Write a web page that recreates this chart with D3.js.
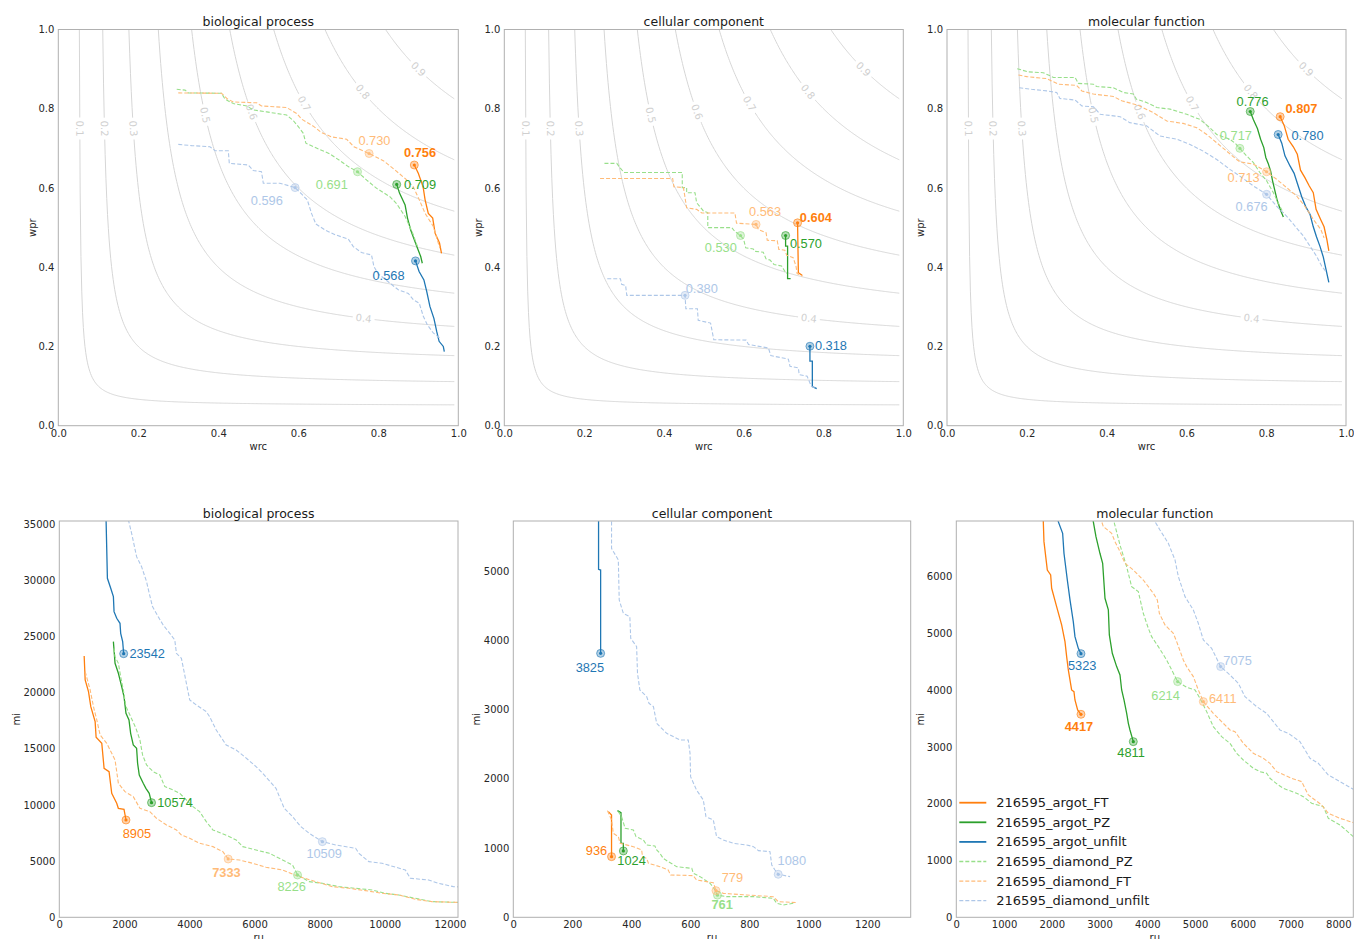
<!DOCTYPE html>
<html>
<head>
<meta charset="utf-8">
<script src="https://cdn.jsdelivr.net/npm/d3@7"></script>
<style>
body { margin: 0; background: #fff; }
svg { display: block; }
</style>
</head>
<body>
<div id="chart"></div>
<script>
// series in legend order
const seriesNames = ["216595_argot_FT", "216595_argot_PZ", "216595_argot_unfilt",
  "216595_diamond_PZ", "216595_diamond_FT", "216595_diamond_unfilt"];
const seriesColors = ["#ff7f0e", "#2ca02c", "#1f77b4", "#98df8a", "#ffbb78", "#aec7e8"];
const ontologies = ["biological process", "cellular component", "molecular function"];

// iso F-measure levels (grey background curves), label sits at this precision
const fLevels = [0.1, 0.2, 0.3, 0.4, 0.5, 0.6, 0.7, 0.8, 0.9];
const fLabelPrecision = [0.75, 0.75, 0.75, 0.271, 0.784, 0.792, 0.813, 0.843, 0.90];

// precision / recall curves  [wrc, wpr]
const prBP = [
  [[0.890,0.658],[0.900,0.637],[0.912,0.603],[0.917,0.570],[0.925,0.536],[0.936,0.524],[0.942,0.486],[0.953,0.461],[0.958,0.435]],
  [[0.846,0.609],[0.853,0.587],[0.867,0.557],[0.873,0.524],[0.881,0.494],[0.890,0.469],[0.898,0.448],[0.906,0.427],[0.910,0.410]],
  [[0.893,0.416],[0.902,0.389],[0.914,0.368],[0.921,0.339],[0.929,0.301],[0.939,0.271],[0.946,0.238],[0.952,0.213],[0.9625,0.200],[0.965,0.187]],
  [[0.296,0.849],[0.317,0.847],[0.325,0.840],[0.408,0.839],[0.417,0.824],[0.4375,0.813],[0.471,0.807],[0.4875,0.797],[0.521,0.792],[0.571,0.784],[0.5875,0.770],[0.600,0.755],[0.6125,0.738],[0.619,0.713],[0.654,0.697],[0.679,0.686],[0.704,0.669],[0.725,0.654],[0.748,0.641],[0.771,0.620],[0.796,0.599],[0.829,0.578],[0.846,0.560],[0.867,0.528],[0.886,0.486],[0.898,0.452]],
  [[0.300,0.840],[0.408,0.839],[0.4225,0.825],[0.4375,0.817],[0.496,0.815],[0.508,0.807],[0.571,0.803],[0.596,0.788],[0.608,0.774],[0.6375,0.756],[0.658,0.740],[0.683,0.729],[0.721,0.723],[0.739,0.704],[0.777,0.687],[0.8125,0.669],[0.842,0.645],[0.867,0.624],[0.8875,0.603],[0.9025,0.570],[0.917,0.536],[0.9375,0.503],[0.9475,0.469],[0.954,0.448]],
  [[0.300,0.710],[0.333,0.707],[0.379,0.704],[0.392,0.694],[0.425,0.694],[0.4275,0.662],[0.475,0.658],[0.4875,0.644],[0.508,0.641],[0.5125,0.612],[0.554,0.612],[0.592,0.601],[0.608,0.585],[0.6225,0.570],[0.633,0.536],[0.644,0.509],[0.667,0.494],[0.692,0.482],[0.725,0.471],[0.7375,0.452],[0.758,0.437],[0.783,0.431],[0.789,0.402],[0.800,0.383],[0.829,0.360],[0.850,0.343],[0.875,0.334],[0.8875,0.318],[0.9025,0.309],[0.9125,0.276],[0.9225,0.255],[0.9375,0.234],[0.954,0.221]]
];
const prCC = [
  [[0.735,0.512],[0.737,0.386],[0.740,0.384],[0.747,0.379]],
  [[0.705,0.480],[0.705,0.453],[0.710,0.453],[0.710,0.371],[0.7175,0.371]],
  [[0.766,0.2005],[0.766,0.163],[0.772,0.163],[0.772,0.099],[0.783,0.0935]],
  [[0.251,0.662],[0.282,0.662],[0.290,0.651],[0.300,0.639],[0.446,0.639],[0.446,0.601],[0.457,0.601],[0.457,0.588],[0.478,0.588],[0.482,0.563],[0.499,0.542],[0.510,0.538],[0.510,0.500],[0.570,0.500],[0.578,0.490],[0.592,0.480],[0.600,0.470],[0.605,0.449],[0.624,0.446],[0.628,0.440],[0.649,0.438],[0.656,0.421],[0.666,0.418],[0.676,0.407],[0.695,0.403],[0.703,0.390],[0.708,0.384]],
  [[0.240,0.624],[0.422,0.624],[0.425,0.603],[0.449,0.601],[0.457,0.550],[0.482,0.546],[0.495,0.537],[0.578,0.537],[0.582,0.511],[0.631,0.508],[0.637,0.495],[0.656,0.487],[0.659,0.468],[0.684,0.467],[0.688,0.445],[0.703,0.443],[0.708,0.430],[0.724,0.424],[0.731,0.403],[0.734,0.384],[0.747,0.377]],
  [[0.258,0.371],[0.291,0.371],[0.294,0.357],[0.304,0.354],[0.307,0.329],[0.453,0.329],[0.455,0.295],[0.484,0.295],[0.486,0.266],[0.517,0.259],[0.525,0.217],[0.606,0.216],[0.612,0.205],[0.662,0.196],[0.668,0.177],[0.712,0.168],[0.716,0.150],[0.737,0.146],[0.739,0.129],[0.759,0.125],[0.766,0.108],[0.770,0.099],[0.783,0.095]]
];
const prMF = [
  [[0.835,0.780],[0.845,0.758],[0.855,0.723],[0.868,0.704],[0.878,0.685],[0.886,0.645],[0.897,0.626],[0.908,0.605],[0.918,0.588],[0.925,0.546],[0.937,0.519],[0.945,0.502],[0.952,0.470],[0.957,0.441]],
  [[0.760,0.793],[0.768,0.772],[0.778,0.750],[0.786,0.723],[0.794,0.702],[0.799,0.677],[0.805,0.662],[0.811,0.643],[0.816,0.618],[0.822,0.592],[0.828,0.567],[0.836,0.544],[0.843,0.527]],
  [[0.830,0.735],[0.839,0.713],[0.847,0.681],[0.860,0.655],[0.870,0.637],[0.878,0.612],[0.889,0.578],[0.899,0.553],[0.910,0.533],[0.918,0.502],[0.926,0.477],[0.935,0.452],[0.943,0.426],[0.950,0.394],[0.957,0.362]],
  [[0.176,0.901],[0.204,0.893],[0.241,0.891],[0.267,0.879],[0.321,0.879],[0.329,0.864],[0.367,0.862],[0.375,0.856],[0.417,0.853],[0.442,0.841],[0.467,0.837],[0.475,0.824],[0.500,0.816],[0.526,0.803],[0.559,0.799],[0.601,0.786],[0.634,0.773],[0.659,0.752],[0.676,0.735],[0.709,0.723],[0.722,0.713],[0.734,0.700],[0.751,0.681],[0.768,0.664],[0.784,0.639],[0.801,0.618],[0.818,0.588],[0.830,0.563],[0.843,0.537]],
  [[0.179,0.885],[0.200,0.881],[0.250,0.876],[0.279,0.862],[0.325,0.859],[0.338,0.845],[0.367,0.837],[0.417,0.831],[0.438,0.820],[0.479,0.809],[0.517,0.790],[0.551,0.769],[0.592,0.763],[0.626,0.752],[0.651,0.735],[0.676,0.714],[0.701,0.693],[0.726,0.672],[0.734,0.666],[0.768,0.660],[0.801,0.641],[0.826,0.622],[0.851,0.601],[0.876,0.580],[0.897,0.554],[0.918,0.521],[0.937,0.495],[0.945,0.474]],
  [[0.181,0.853],[0.212,0.849],[0.250,0.845],[0.275,0.841],[0.283,0.826],[0.321,0.822],[0.338,0.807],[0.367,0.805],[0.384,0.786],[0.434,0.780],[0.458,0.765],[0.500,0.757],[0.534,0.731],[0.576,0.723],[0.609,0.710],[0.642,0.693],[0.676,0.672],[0.709,0.647],[0.734,0.630],[0.768,0.605],[0.801,0.584],[0.826,0.554],[0.851,0.529],[0.872,0.504],[0.893,0.479],[0.910,0.453],[0.926,0.428],[0.939,0.403],[0.952,0.386]]
];
// Fmax points and their values
const prBestBP = [[0.890,0.658],[0.846,0.609],[0.893,0.416],[0.748,0.641],[0.777,0.687],[0.592,0.601]];
const prBestCC = [[0.735,0.512],[0.705,0.480],[0.766,0.2005],[0.592,0.480],[0.631,0.508],[0.453,0.329]];
const prBestMF = [[0.835,0.780],[0.760,0.793],[0.830,0.735],[0.734,0.700],[0.801,0.641],[0.801,0.584]];
const fmaxBP = ["0.756", "0.709", "0.568", "0.691", "0.730", "0.596"];
const fmaxCC = ["0.604", "0.570", "0.318", "0.530", "0.563", "0.380"];
const fmaxMF = ["0.807", "0.776", "0.780", "0.717", "0.713", "0.676"];

// remaining uncertainty / misinformation curves  [ru, mi]
const ruBP = [
  [[764,23257],[795,21122],[897,20083],[968,18748],[1101,17413],[1131,16019],[1305,15485],[1376,13260],[1529,12964],[1611,11035],[1764,10145],[1814,9700],[1988,9611],[2049,8660]],
  [[1662,24533],[1713,22605],[1815,21715],[1917,20528],[1988,19639],[2049,18155],[2141,17562],[2192,16375],[2273,15337],[2375,15040],[2406,13705],[2457,12667],[2579,11925],[2661,11480],[2763,11035],[2834,10205]],
  [[1437,35400],[1478,30169],[1580,29279],[1662,28537],[1682,27203],[1764,26609],[1865,26164],[1886,25274],[1947,24533],[1978,23460]],
  [[1682,23939],[1713,23197],[1815,22605],[1886,21418],[1967,20232],[2049,18748],[2192,17858],[2355,16820],[2477,15782],[2559,14447],[2681,13557],[2885,12964],[3089,12667],[3242,11629],[3496,11332],[3700,11035],[3904,10442],[4108,9849],[4312,9404],[4516,8514],[4720,7772],[5229,7179],[5433,6882],[5637,6289],[6045,5992],[6453,5696],[6860,5102],[7166,4657],[7319,3767],[7676,3174],[8083,3026],[8593,2729],[9103,2581],[9613,2433],[10020,2136],[10428,1988],[10938,1691],[11448,1394],[12110,1335],[12300,1330]],
  [[795,21863],[948,20232],[1050,18748],[1152,17562],[1254,16227],[1458,15485],[1611,14595],[1713,14002],[1815,11925],[2018,11184],[2273,10739],[2477,9700],[2783,9404],[2987,8810],[3293,8217],[3598,7772],[3751,7327],[4006,7031],[4312,6586],[4720,6289],[5026,5844],[5189,5191],[5535,5102],[5943,4806],[6351,4450],[6860,4212],[7370,3619],[7880,3174],[8389,2729],[8899,2581],[9409,2373],[9918,2136],[10428,1988],[10938,1602],[11448,1394],[12110,1335],[12300,1330]],
  [[2120,35400],[2222,34174],[2375,32098],[2528,31208],[2681,29873],[2763,28834],[2864,27648],[3038,26758],[3191,26016],[3395,25274],[3548,24681],[3599,23494],[3752,23049],[3905,20825],[4007,19342],[4210,18897],[4516,18303],[4618,17858],[4822,16672],[5128,15337],[5433,14892],[5688,14299],[6045,13409],[6249,12815],[6657,11480],[6911,9700],[7166,8959],[7421,8069],[7676,7475],[8083,6734],[8491,6437],[9103,6141],[9205,5696],[9511,4954],[9918,4806],[10632,4212],[10785,3471],[11346,3323],[11651,3026],[12110,2729],[12300,2700]]
];
const ruCC = [
  [[322,1526],[333,1477],[333,876]],
  [[353,1540],[365,1511],[365,1068],[373,1068],[373,958]],
  [[289,5800],[289,5024],[296,5014],[296,3811]],
  [[356,1526],[367,1453],[379,1285],[407,1261],[416,1165],[441,1116],[452,1044],[480,1030],[486,972],[497,924],[508,852],[525,804],[554,731],[605,707],[610,635],[633,587],[667,491],[683,400],[692,320],[723,298],[814,298],[881,274],[893,202],[915,178],[949,202]],
  [[319,1540],[333,1405],[339,1213],[356,1165],[362,1068],[407,1020],[435,972],[438,876],[452,852],[458,780],[497,731],[525,683],[533,611],[610,602],[621,539],[655,515],[678,500],[687,385],[712,346],[791,322],[881,298],[898,226],[960,212]],
  [[333,5800],[333,5327],[356,5159],[359,4581],[373,4389],[395,4341],[398,4028],[418,3908],[421,3523],[429,3282],[452,3186],[460,3090],[475,3041],[486,2801],[497,2753],[520,2656],[565,2560],[593,2560],[599,2368],[601,2031],[621,1838],[644,1694],[653,1453],[678,1405],[689,1165],[712,1116],[746,1068],[791,1044],[814,1020],[831,962],[870,948],[876,756],[887,683],[898,621],[938,587]]
];
const ruMF = [
  [[1815,7050],[1822,6962],[1836,6610],[1906,6111],[1976,6023],[1997,5789],[2101,5466],[2206,5144],[2276,4850],[2311,4587],[2346,4352],[2415,4000],[2464,3971],[2485,3824],[2541,3648],[2611,3572]],
  [[2860,7050],[2869,6962],[2925,6698],[3008,6405],[3065,6229],[3114,5613],[3184,5408],[3205,4968],[3267,4645],[3358,4411],[3428,4264],[3463,4000],[3512,3824],[3568,3589],[3603,3413],[3637,3296],[3707,3091]],
  [[2130,7050],[2136,6962],[2227,6757],[2255,6405],[2325,5935],[2381,5584],[2450,5202],[2485,4938],[2555,4733],[2611,4639]],
  [[3290,7050],[3302,6962],[3428,6551],[3567,6170],[3672,5818],[3812,5730],[3916,5349],[4021,5085],[4091,4938],[4231,4762],[4405,4528],[4635,4147],[4824,4047],[4999,4000],[5103,3853],[5243,3619],[5382,3355],[5557,3179],[5731,3062],[5871,2886],[6010,2768],[6220,2622],[6359,2563],[6499,2534],[6569,2446],[6743,2328],[6848,2270],[7127,2182],[7267,2123],[7442,2006],[7686,1947],[7791,1742],[8035,1625],[8314,1419],[8400,1380]],
  [[3030,7050],[3044,6962],[3079,6874],[3253,6757],[3323,6610],[3428,6434],[3532,6229],[3707,6111],[3916,5935],[4126,5701],[4210,5584],[4252,5349],[4370,5144],[4545,4997],[4615,4850],[4754,4528],[4824,4411],[4964,4235],[5068,4000],[5173,3795],[5382,3589],[5592,3413],[5731,3296],[5836,3267],[6010,3062],[6220,2886],[6429,2798],[6569,2710],[6708,2563],[7023,2446],[7232,2387],[7372,2152],[7512,2065],[7651,1977],[7791,1830],[8035,1742],[8314,1666],[8400,1640]],
  [[4150,7050],[4161,6962],[4265,6815],[4440,6581],[4580,6288],[4650,5994],[4790,5642],[4964,5408],[5068,5173],[5173,4880],[5347,4733],[5536,4411],[5731,4264],[5906,4117],[6045,3883],[6290,3707],[6499,3589],[6639,3443],[6778,3296],[6953,3238],[7197,3091],[7407,2798],[7581,2710],[7791,2504],[8035,2387],[8314,2252],[8400,2220]]
];
// Smin points and their values
const ruBestBP = [[2049,8660],[2834,10205],[1978,23460],[7319,3767],[5189,5191],[8083,6734]];
const ruBestCC = [[333,876],[373,958],[296,3811],[692,320],[687,385],[898,621]];
const ruBestMF = [[2611,3572],[3707,3091],[2611,4639],[4635,4147],[5173,3795],[5536,4411]];
const sminBP = ["8905", "10574", "23542", "8226", "7333", "10509"];
const sminCC = ["936", "1024", "3825", "761", "779", "1080"];
const sminMF = ["4417", "4811", "5323", "6214", "6411", "7075"];

// ---- layout (pixels) ----
const W = 1354, H = 939;
const topRow = { y0: 29.5, y1: 425.7, xs: [[58.3, 458.3], [504.3, 903.3], [947, 1346]] };
const botRow = { y0: 521, y1: 917.3, xs: [[59.3, 458], [513.3, 910.7], [956.3, 1353.3]] };

// label offsets from marker: [dx to text start, dy to text middle]
const prOffsets = [
  [[-10.3,-12.7],[7.3,0],[-43,15],[-41.7,12.7],[-10.7,-12.7],[-44.3,13.3]],
  [[2.3,-5.7],[4.3,8],[5,-1],[-35.7,12.3],[-7,-12.7],[0.7,-6.7]],
  [[5.3,-8],[-13.7,-9.7],[13.3,0.7],[-20,-13.3],[-39,6],[-31,11.7]]
];
const ruOffsets = [
  [[-3.3,13.3],[5.7,0],[5.7,0],[-20,11.7],[-16,13.3],[-16,12.3]],
  [[-25.7,-5.7],[-6,10],[-25,14.3],[-6,9.3],[5.7,-13.3],[-0.7,-13.7]],
  [[-16.3,12.3],[-16,11],[-13,12],[-26.3,13.7],[5.7,-3],[2.7,-5.7]]
];

const svg = d3.select("#chart").append("svg")
  .attr("width", W)
  .attr("height", H);

const tickFont = "'DejaVu Sans', sans-serif";
const valueFont = "'Liberation Sans', Arial, sans-serif";

const panels = [
  { kind: "pr", title: ontologies[0], box: topRow.xs[0], row: topRow, data: prBP, best: prBestBP, labels: fmaxBP, offs: prOffsets[0],
    xDom: [0, 1], yDom: [0, 1], xTicks: d3.range(0, 1.01, 0.2), yTicks: d3.range(0, 1.01, 0.2), fmt: d3.format(".1f"), yLabDx: 26.3 },
  { kind: "pr", title: ontologies[1], box: topRow.xs[1], row: topRow, data: prCC, best: prBestCC, labels: fmaxCC, offs: prOffsets[1],
    xDom: [0, 1], yDom: [0, 1], xTicks: d3.range(0, 1.01, 0.2), yTicks: d3.range(0, 1.01, 0.2), fmt: d3.format(".1f"), yLabDx: 26.3 },
  { kind: "pr", title: ontologies[2], box: topRow.xs[2], row: topRow, data: prMF, best: prBestMF, labels: fmaxMF, offs: prOffsets[2],
    xDom: [0, 1], yDom: [0, 1], xTicks: d3.range(0, 1.01, 0.2), yTicks: d3.range(0, 1.01, 0.2), fmt: d3.format(".1f"), yLabDx: 27 },
  { kind: "ru", title: ontologies[0], box: botRow.xs[0], row: botRow, data: ruBP, best: ruBestBP, labels: sminBP, offs: ruOffsets[0],
    xDom: [0, 12250], yDom: [0, 35270], xTicks: d3.range(0, 12001, 2000), yTicks: d3.range(0, 35001, 5000), fmt: d3.format("d"), yLabDx: 43.3 },
  { kind: "ru", title: ontologies[1], box: botRow.xs[1], row: botRow, data: ruCC, best: ruBestCC, labels: sminCC, offs: ruOffsets[1],
    xDom: [0, 1347], yDom: [0, 5722], xTicks: d3.range(0, 1201, 200), yTicks: d3.range(0, 5001, 1000), fmt: d3.format("d"), yLabDx: 37.3 },
  { kind: "ru", title: ontologies[2], box: botRow.xs[2], row: botRow, data: ruMF, best: ruBestMF, labels: sminMF, offs: ruOffsets[2],
    xDom: [0, 8314], yDom: [0, 6973], xTicks: d3.range(0, 8001, 1000), yTicks: d3.range(0, 6001, 1000), fmt: d3.format("d"), yLabDx: 36.3, legend: true }
];

panels.forEach((p, i) => drawPanel(p, i));

function drawPanel(p, i) {
  const x0 = p.box[0], x1 = p.box[1], y0 = p.row.y0, y1 = p.row.y1;
  const x = d3.scaleLinear().domain(p.xDom).range([x0, x1]);
  const y = d3.scaleLinear().domain(p.yDom).range([y1, y0]);
  const g = svg.append("g");

  const clipId = "clip" + i;
  g.append("clipPath").attr("id", clipId)
    .append("rect").attr("x", x0).attr("y", y0).attr("width", x1 - x0).attr("height", y1 - y0);

  if (p.kind === "pr") drawIsoF(g, x, y, clipId);

  const line = d3.line().x(d => x(d[0])).y(d => y(d[1]));
  p.data.forEach((pts, k) => {
    g.append("path")
      .attr("d", line(pts))
      .attr("clip-path", `url(#${clipId})`)
      .attr("fill", "none")
      .attr("stroke", seriesColors[k])
      .attr("stroke-width", k < 3 ? 1.3 : 1.1)
      .attr("stroke-dasharray", k < 3 ? null : "4,2");
  });

  // best point markers
  p.best.forEach((b, k) => {
    g.append("circle").attr("cx", x(b[0])).attr("cy", y(b[1])).attr("r", 4)
      .attr("fill", seriesColors[k]).attr("fill-opacity", 0.35)
      .attr("stroke", seriesColors[k]).attr("stroke-opacity", 0.6).attr("stroke-width", 1);
    g.append("circle").attr("cx", x(b[0])).attr("cy", y(b[1])).attr("r", 1.6)
      .attr("fill", seriesColors[k]);
  });

  // value labels, best one bold
  const vals = p.labels.map(Number);
  const bestVal = p.kind === "pr" ? d3.max(vals) : d3.min(vals);
  p.labels.forEach((t, k) => {
    const b = p.best[k];
    g.append("text")
      .attr("x", x(b[0]) + p.offs[k][0])
      .attr("y", y(b[1]) + p.offs[k][1])
      .attr("dominant-baseline", "central")
      .attr("font-family", valueFont)
      .attr("font-size", 12.8)
      .attr("font-weight", vals[k] === bestVal ? "bold" : "normal")
      .attr("fill", seriesColors[k])
      .text(t);
  });

  // axes, no tick marks
  const xAxis = g.append("g").attr("transform", `translate(0,${y1})`)
    .call(d3.axisBottom(x).tickValues(p.xTicks).tickSize(0).tickPadding(4).tickFormat(p.fmt));
  const yAxis = g.append("g").attr("transform", `translate(${x0},0)`)
    .call(d3.axisLeft(y).tickValues(p.yTicks).tickSize(0).tickPadding(4).tickFormat(p.fmt));
  [xAxis, yAxis].forEach(a => {
    a.select(".domain").remove();
    a.selectAll("text").attr("font-family", tickFont).attr("font-size", 10).attr("fill", "#262626");
  });

  // frame
  g.append("rect").attr("x", x0).attr("y", y0).attr("width", x1 - x0).attr("height", y1 - y0)
    .attr("fill", "none").attr("stroke", "#b0b0b0").attr("stroke-width", 1);

  // titles and axis labels
  g.append("text").attr("x", (x0 + x1) / 2).attr("y", y0 - 3.5)
    .attr("text-anchor", "middle").attr("font-family", tickFont).attr("font-size", 12.5)
    .attr("fill", "#1a1a1a").text(p.title);
  g.append("text").attr("x", (x0 + x1) / 2).attr("y", y1 + 24)
    .attr("text-anchor", "middle").attr("font-family", tickFont).attr("font-size", 10)
    .attr("fill", "#262626").text(p.kind === "pr" ? "wrc" : "ru");
  g.append("text")
    .attr("transform", `translate(${x0 - p.yLabDx},${(y0 + y1) / 2}) rotate(-90)`)
    .attr("text-anchor", "middle").attr("dominant-baseline", "central")
    .attr("font-family", tickFont).attr("font-size", 10)
    .attr("fill", "#262626").text(p.kind === "pr" ? "wpr" : "mi");

  if (p.legend) drawLegend(g, x0);
}

// grey curves of constant F = 2pr/(p+r)
function drawIsoF(g, x, y, clipId) {
  const sx = x(1) - x(0), sy = y(0) - y(1);
  fLevels.forEach((f, j) => {
    const rs = d3.range(f / (2 - f), 0.9901, 0.002).concat([0.99]);
    const pts = rs.map(r => [r, f * r / (2 * r - f)]);
    g.append("path")
      .attr("d", d3.line().x(d => x(d[0])).y(d => y(d[1]))(pts))
      .attr("clip-path", `url(#${clipId})`)
      .attr("fill", "none").attr("stroke", "#d6d6d6").attr("stroke-width", 1);

    const pr = fLabelPrecision[j];
    const r = f * pr / (2 * pr - f);
    const slope = f * f / Math.pow(2 * r - f, 2);
    const ang = Math.atan2(sy * slope, sx) * 180 / Math.PI;
    const lg = g.append("g").attr("transform", `translate(${x(r)},${y(pr)}) rotate(${ang})`);
    const bg = lg.append("rect").attr("fill", "#fff");
    const t = lg.append("text").attr("text-anchor", "middle").attr("dominant-baseline", "central")
      .attr("font-family", tickFont).attr("font-size", 10).attr("fill", "#d0d0d0")
      .text(d3.format(".1f")(f));
    const w = t.node().getComputedTextLength();
    bg.attr("x", -w / 2 - 3).attr("y", -5).attr("width", w + 6).attr("height", 10);
  });
}

function drawLegend(g, x0) {
  const lg = g.append("g");
  seriesNames.forEach((name, k) => {
    const yy = 802.7 + k * 19.6;
    lg.append("line").attr("x1", x0 + 3).attr("x2", x0 + 30).attr("y1", yy).attr("y2", yy)
      .attr("stroke", seriesColors[k]).attr("stroke-width", k < 3 ? 1.8 : 1.3)
      .attr("stroke-dasharray", k < 3 ? null : "4,2");
    lg.append("text").attr("x", x0 + 40).attr("y", yy).attr("dominant-baseline", "central")
      .attr("font-family", tickFont).attr("font-size", 13).attr("fill", "#1a1a1a").text(name);
  });
}
</script>
</body>
</html>
